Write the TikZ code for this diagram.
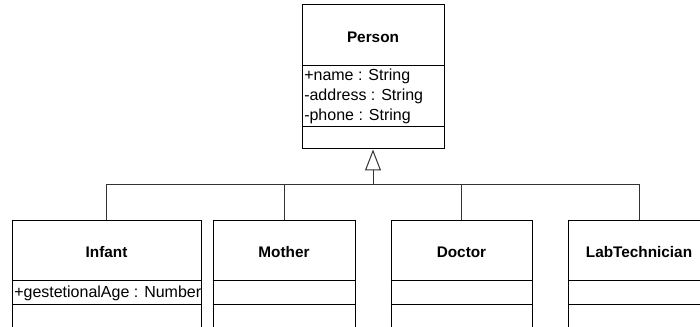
\documentclass[tikz,border=0pt]{standalone}
\usepackage{fontspec}
\setmainfont{Liberation Sans}
\usetikzlibrary{arrows.meta}

\tikzset{
  classbox/.style={draw, line width=0.75pt, rectangle, inner sep=0pt},
  classname/.style={font=\bfseries\fontsize{11.5}{14}\selectfont, inner sep=0pt},
  attr/.style={font=\fontsize{12}{14.4}\selectfont, anchor=west, inner sep=0pt},
  link/.style={draw=black!80, line width=0.75pt}
}

\begin{document}
\begin{tikzpicture}[x=0.75pt, y=-0.75pt]
  \useasboundingbox (0,0) rectangle (700,327);
  \clip (0,0) rectangle (700,327);

  % superclass
  \node[classbox, minimum width=106.5pt, minimum height=108pt] (person) at (373,77) {};
  \node[classname] (personname) at (373,37) {Person};
  \draw[line width=0.75pt] (person.west |- 0,66) -- (person.east |- 0,66);
  \draw[line width=0.75pt] (person.west |- 0,127) -- (person.east |- 0,127);
  \node[attr] (pname) at (304,76) {+name : String};
  \node[attr] (paddress) at (304,96) {-address : String};
  \node[attr] (pphone) at (304,116) {-phone : String};

  % subclasses
  \node[classbox, minimum width=141.75pt, minimum height=108pt] (infant) at (106.5,293) {};
  \node[classbox, minimum width=106.5pt, minimum height=108pt] (mother) at (284,293) {};
  \node[classbox, minimum width=105.75pt, minimum height=108pt] (doctor) at (461.5,293) {};
  \node[classbox, minimum width=106.5pt, minimum height=108pt] (labtech) at (639,293) {};

  \node[classname] (infantname) at (infant |- 0,252) {Infant};
  \node[classname] (mothername) at (mother |- 0,252) {Mother};
  \node[classname] (doctorname) at (doctor |- 0,252) {Doctor};
  \node[classname] (labtechname) at (labtech |- 0,252) {LabTechnician};

  \foreach \c in {infant, mother, doctor, labtech} {
    \draw[line width=0.75pt] (\c.west |- 0,281) -- (\c.east |- 0,281);
    \draw[line width=0.75pt] (\c.west |- 0,305) -- (\c.east |- 0,305);
  }
  \node[attr] (iage) at (14,293) {+gestetionalAge : Number};

  % generalisation
  \coordinate (bus) at (373,185);
  \foreach \c in {infant, mother, doctor, labtech}
    \draw[link] (\c.north) |- (bus);
  \draw[link, -{Triangle[open, length=15.75pt, width=12pt, fill=white]}] (bus) -- (person.south);
\end{tikzpicture}
\end{document}
